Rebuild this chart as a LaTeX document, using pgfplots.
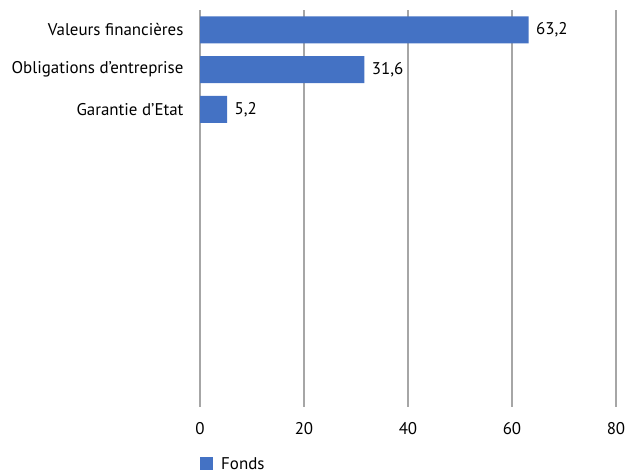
\documentclass[border=0pt]{standalone}
\usepackage{pgfplots}
\pgfplotsset{compat=1.18}
\usepackage{fontspec}
\setmainfont{PT Sans}
\definecolor{barblue}{RGB}{68,114,196}
\definecolor{gridgray}{RGB}{166,166,166}
\newcommand{\lblfont}{\fontsize{17}{20}\selectfont}
\begin{document}
\begin{tikzpicture}
\begin{axis}[
  at={(200bp,65bp)}, anchor=south west,
  scale only axis, width=416bp, height=397bp,
  xbar, bar width=0.68,
  xmin=0, xmax=80, ymin=-0.5, ymax=9.5, y dir=reverse,
  xtick={0,20,40,60,80},
  ytick={0,1,2},
  yticklabels={Valeurs financières,Obligations d’entreprise,Garantie d'Etat},
  axis line style={draw=none},
  major tick length=0pt,
  xmajorgrids, grid style={gridgray, line width=1.2bp},
  tick label style={font=\lblfont, text=black},
  /pgf/number format/assume math mode=true,
  xticklabel style={yshift=-12bp},
  yticklabel style={xshift=-13bp},
  nodes near coords,
  nodes near coords style={font=\lblfont, xshift=4bp, /pgf/number format/use comma, /pgf/number format/fixed, /pgf/number format/fixed zerofill, /pgf/number format/precision=1},
  legend style={draw=none, at={(0,-0.123)}, anchor=north west, font=\lblfont, inner sep=0pt, legend cell align=left},
  legend image code/.code={\fill[barblue] (0bp,-5bp) rectangle (13bp,8bp); \path (19bp,0bp);},
]
\addplot[fill=barblue, draw=none] coordinates {(63.2,0) (31.6,1) (5.2,2)};
\addlegendentry{Fonds}
\end{axis}
\pgfresetboundingbox
\useasboundingbox (0,0) rectangle (630bp,472bp);
\end{tikzpicture}
\end{document}
